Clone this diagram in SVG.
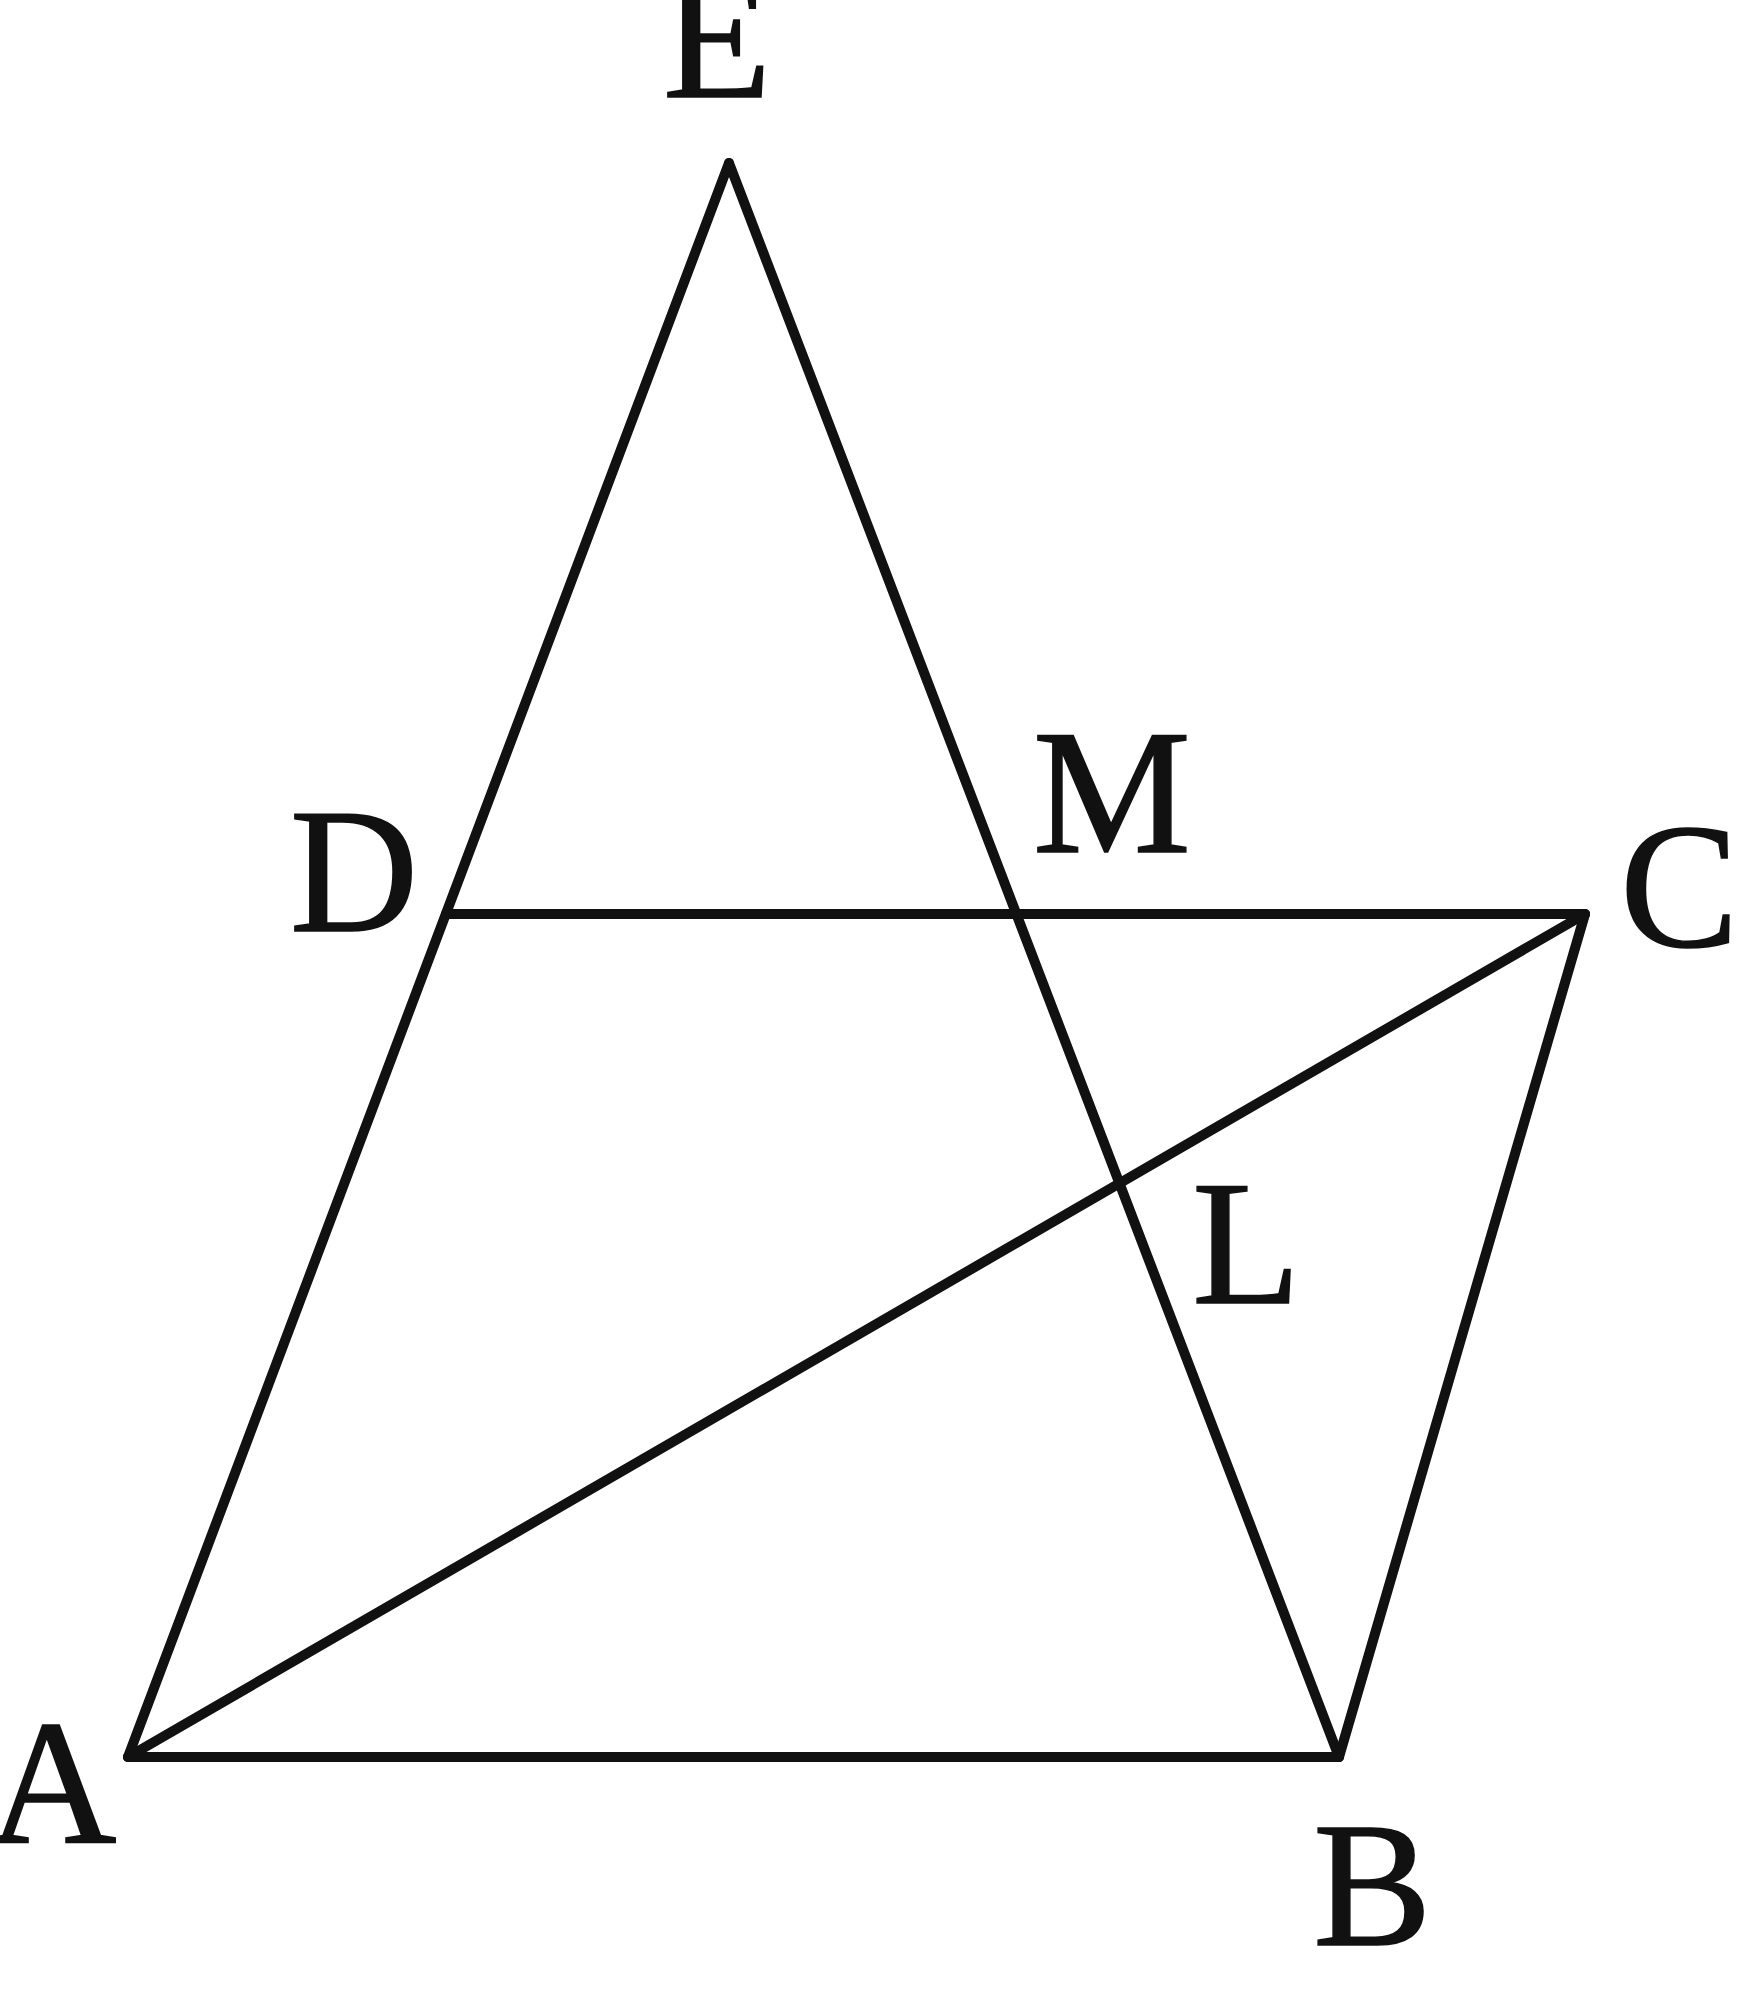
<svg xmlns="http://www.w3.org/2000/svg" width="1737" height="2000" viewBox="0 0 1737 2000">
<style>
.ln{stroke:#111;stroke-width:10;fill:none;stroke-linecap:round;stroke-linejoin:round}
.lb{font-family:"Liberation Serif","Times New Roman",serif;font-size:178px;fill:#111;stroke:#111;stroke-width:1.5}
</style>
<rect width="1737" height="2000" fill="#fff"/>
<g id="connectors">
<line class="ln" x1="729" y1="163" x2="128" y2="1757"/>
<line class="ln" x1="729" y1="163" x2="1339" y2="1757"/>
<line class="ln" x1="446" y1="914" x2="1585" y2="914"/>
<line class="ln" x1="128" y1="1757" x2="1339" y2="1757"/>
<line class="ln" x1="128" y1="1757" x2="1585" y2="914"/>
<line class="ln" x1="1585" y1="914" x2="1339" y2="1757"/>
</g>
<g id="node-E"><text class="lb" x="717" y="97" text-anchor="middle">E</text></g>
<g id="node-D"><text class="lb" x="354" y="931" text-anchor="middle">D</text></g>
<g id="node-M"><text class="lb" x="1112" y="852" text-anchor="middle">M</text></g>
<g id="node-C"><text class="lb" x="1620" y="946">C</text></g>
<g id="node-L"><text class="lb" x="1192" y="1303">L</text></g>
<g id="node-A"><text class="lb" x="-12" y="1843">A</text></g>
<g id="node-B"><text class="lb" x="1313" y="1945">B</text></g>
</svg>
